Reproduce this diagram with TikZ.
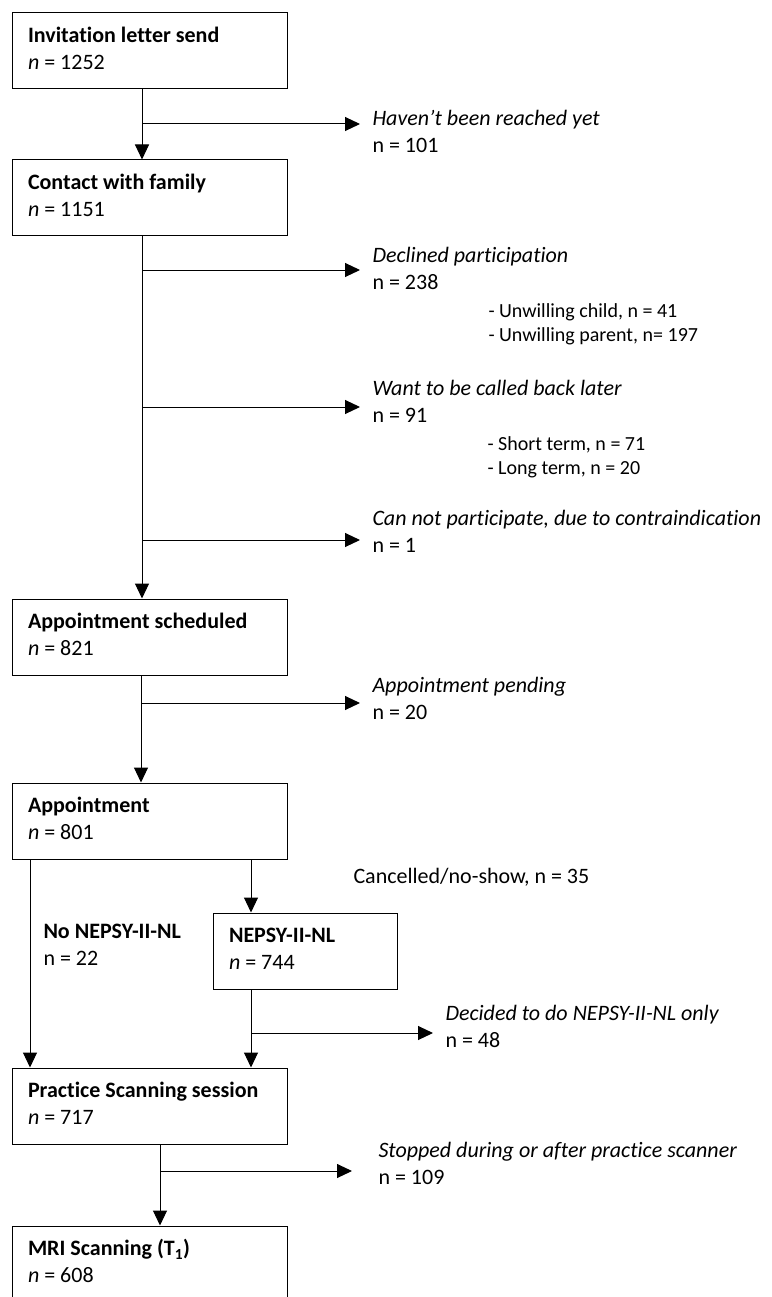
\documentclass[tikz,border=0pt]{standalone}
\usepackage{fontspec}
\setmainfont{Carlito}[Ligatures={TeX,NoCommon}]
\usetikzlibrary{arrows.meta}

\begin{document}
\begin{tikzpicture}[x=1pt,y=-1pt,line width=1pt,
    box/.style={draw,rectangle,text width=243pt,inner xsep=16pt,inner ysep=0pt,minimum height=76pt,align=flush left,font=\fontsize{22}{27}\selectfont},
    note/.style={anchor=north west,inner sep=0pt,align=left,font=\fontsize{22}{27}\selectfont},
    subnote/.style={anchor=north west,inner sep=0pt,align=left,font=\fontsize{20}{24}\selectfont},
    flow/.style={-{Triangle[length=15pt,width=14pt]}}]
      \useasboundingbox (0,0) rectangle (771,1297);

      \node[box] (inv) at (149.5,51) {\strut\textbf{Invitation letter send}\\\textit{n} = 1252\strut};
      \node[box] (contact) at (149.5,198) {\strut\textbf{Contact with family}\\\textit{n} = 1151\strut};
      \node[box] (sched) at (149.5,637) {\strut\textbf{Appointment scheduled}\\\textit{n} = 821\strut};
      \node[box] (appt) at (149.5,821) {\strut\textbf{Appointment}\\\textit{n} = 801\strut};
      \node[box,text width=152pt] (nepsy) at (305,951) {\strut\textbf{NEPSY-II-NL}\\\textit{n} = 744\strut};
      \node[box] (practice) at (149.5,1106) {\strut\textbf{Practice Scanning session}\\\textit{n} = 717\strut};
      \node[box] (mri) at (149.5,1264) {\strut\textbf{MRI Scanning (T\textsubscript{1})}\\\textit{n} = 608\strut};

      \node[note] (haven) at (372,106.1) {\strut\textit{Haven’t been reached yet}\\n = 101};
      \node[note] (declined) at (372,243.1) {\strut\textit{Declined participation}\\n = 238};
      \node[subnote] (declsub) at (488,300.2) {\strut- Unwilling child, n = 41\\- Unwilling parent, n= 197};
      \node[note] (later) at (372,376.1) {\strut\textit{Want to be called back later}\\n = 91};
      \node[subnote] (latersub) at (487,433.2) {\strut- Short term, n = 71\\- Long term, n = 20};
      \node[note] (contra) at (372,506.1) {\strut\textit{Can not participate, due to contraindication}\\n = 1};
      \node[note] (pending) at (372,673.1) {\strut\textit{Appointment pending}\\n = 20};
      \node[note] (cancel) at (353,864.1) {\strut Cancelled/no-show, n = 35};
      \node[note] (nonepsy) at (43,919.1) {\strut\textbf{No NEPSY-II-NL}\\n = 22};
      \node[note] (decided) at (445,1001.1) {\strut\textit{Decided to do NEPSY-II-NL only}\\n = 48};
      \node[note] (stopped) at (378,1138.1) {\strut\textit{Stopped during or after practice scanner}\\n = 109};

      \coordinate (ta) at (142,0);
      \coordinate (tb) at (141,0);
      \coordinate (tl) at (30,0);
      \coordinate (tr) at (251,0);
      \coordinate (tc) at (160,0);

      \coordinate (havtip) at (360,124);
      \coordinate (dectip) at (360,270);
      \coordinate (lattip) at (360,407);
      \coordinate (contip) at (360,540);
      \coordinate (pentip) at (360,703);
      \coordinate (deltip) at (433,1033);
      \coordinate (stotip) at (352,1171);

      \draw[flow] (inv.south -| ta) -- (contact.north -| ta);
      \draw[flow] (havtip -| ta) -- (havtip);
      \draw[flow] (contact.south -| ta) -- (sched.north -| ta);
      \draw[flow] (dectip -| ta) -- (dectip);
      \draw[flow] (lattip -| ta) -- (lattip);
      \draw[flow] (contip -| ta) -- (contip);
      \draw[flow] (sched.south -| tb) -- (appt.north -| tb);
      \draw[flow] (pentip -| tb) -- (pentip);
      \draw[flow] (appt.south -| tl) -- (practice.north -| tl);
      \draw[flow] (appt.south -| tr) -- (nepsy.north -| tr);
      \draw[flow] (nepsy.south -| tr) -- (practice.north -| tr);
      \draw[flow] (deltip -| tr) -- (deltip);
      \draw[flow] (practice.south -| tc) -- (mri.north -| tc);
      \draw[flow] (stotip -| tc) -- (stotip);
    \end{tikzpicture}
\end{document}
